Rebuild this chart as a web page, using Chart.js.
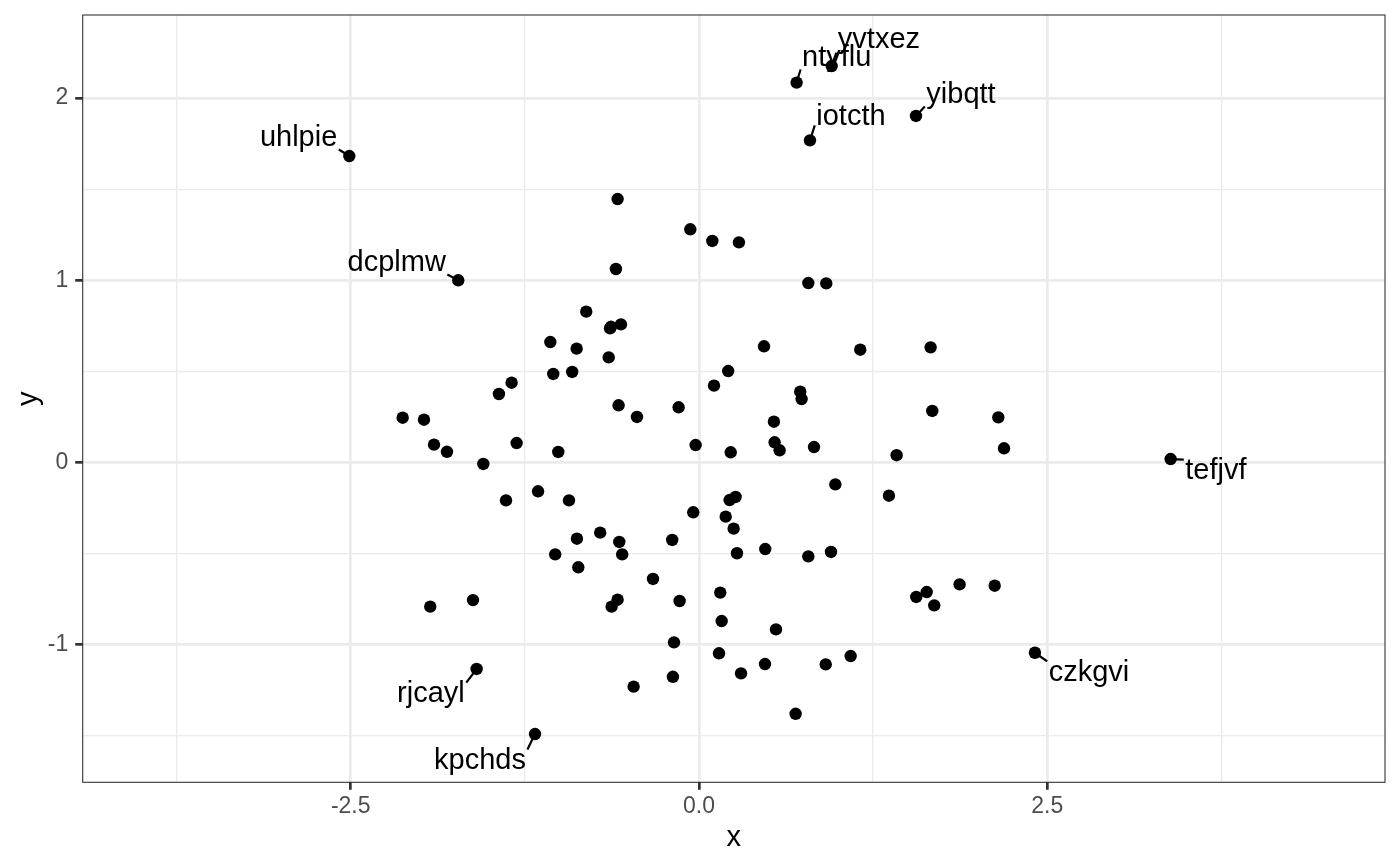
<!DOCTYPE html>
<html>
<head>
<meta charset="utf-8">
<script src="https://cdn.jsdelivr.net/npm/chart.js@4.4.1/dist/chart.umd.min.js"></script>
<style>
  html, body { margin: 0; padding: 0; background: #fff; }
  #wrap { width: 1400px; height: 866px; }
</style>
</head>
<body>
<div id="wrap"><canvas id="scatter" width="1400" height="866"></canvas></div>
<script>
// labelled points come first (same order as labelNames)
var pointX = [-2.51, -1.728, 0.701, 0.953, 0.797, 1.558, -1.596, -1.177, 3.386, 2.412,
  -0.584, -0.062, 0.096, 0.287, -0.596, 0.785, 0.914, -0.809, -0.632, -0.638, -0.56,
  -1.067, -0.878, -0.648, -1.046, -0.910, 0.467, 1.158, 1.663, 0.210, 0.108, 0.727, 0.737,
  -0.577, -0.445, -0.146, 0.538, 0.543, 0.579, 0.826, 1.675, 1.419, -1.309, -1.010,
  -1.345, -1.436, -2.127, -1.974, -1.902, -1.809, -1.548, -1.385, -1.155, -1.929, -1.622,
  -0.933, -0.041, -0.024, 0.228, 0.979, 1.364, 0.220, 0.263, 0.192, 0.249,
  -0.709, -0.876, -0.572, -0.192, -1.032, -0.551, -0.866, 0.273, 0.476, 0.785, 0.948,
  -0.330, -0.584, -0.627, -0.139, 0.153, 0.163, 0.553, -0.179, 0.144, 0.474, 0.302,
  -0.187, -0.469, 0.910, 1.089, 0.694, 1.560, 1.635, 1.689, 1.871, 2.149, 2.190, 2.123];
var pointY = [1.682, 1.000, 2.085, 2.176, 1.768, 1.902, -1.133, -1.490, 0.019, -1.044,
  1.446, 1.280, 1.216, 1.208, 1.062, 0.985, 0.983, 0.828, 0.745, 0.736, 0.758,
  0.661, 0.625, 0.577, 0.486, 0.497, 0.638, 0.619, 0.632, 0.502, 0.422, 0.389, 0.348,
  0.314, 0.250, 0.303, 0.224, 0.111, 0.067, 0.085, 0.283, 0.040, 0.107, 0.058,
  0.438, 0.376, 0.246, 0.235, 0.098, 0.059, -0.008, -0.208, -0.158, -0.791, -0.755,
  -0.208, -0.273, 0.096, 0.056, -0.120, -0.182, -0.206, -0.189, -0.297, -0.363,
  -0.385, -0.418, -0.436, -0.425, -0.504, -0.504, -0.575, -0.498, -0.475, -0.515, -0.491,
  -0.639, -0.753, -0.791, -0.760, -0.714, -0.870, -0.916, -0.987, -1.047, -1.106, -1.157,
  -1.176, -1.230, -1.108, -1.062, -1.379, -0.738, -0.711, -0.784, -0.669, 0.248, 0.078, -0.676];

// text labels and where the repelled text sits (data units)
var labelNames = ["uhlpie", "dcplmw", "ntyflu", "yvtxez", "iotcth", "yibqtt", "rjcayl", "kpchds", "tefjvf", "czkgvi"];
var labelX = [-2.874, -2.170, 0.989, 1.292, 1.091, 1.881, -1.924, -1.572, 3.711, 2.800];
var labelY = [1.781, 1.095, 2.220, 2.313, 1.913, 2.017, -1.271, -1.638, -0.047, -1.155];

var xTicks = [-3.75, -2.5, -1.25, 0, 1.25, 2.5, 3.75];
var xTickLabels = ["", "-2.5", "", "0.0", "", "2.5", ""];
var yTicks = [-1.5, -1, -0.5, 0, 0.5, 1, 1.5, 2];
var yTickLabels = ["", "-1", "", "0", "", "1", "", "2"];

var FONT = '"Liberation Sans", Arial, Helvetica, sans-serif';

function tickText(ticks, labels, v) {
    var i = ticks.indexOf(v);
    return i < 0 ? "" : labels[i];
}
function isMajor(ticks, labels, v) {
    return tickText(ticks, labels, v) !== "";
}

var points = pointX.map(function (x, i) { return { x: x, y: pointY[i] }; });

var repelLabels = {
    id: "repelLabels",
    afterDatasetsDraw: function (chart) {
        var ctx = chart.ctx, sx = chart.scales.x, sy = chart.scales.y;
        ctx.save();
        ctx.font = "29px " + FONT;
        ctx.textAlign = "left";
        ctx.textBaseline = "alphabetic";
        ctx.fillStyle = "#000";
        ctx.strokeStyle = "#000";
        ctx.lineWidth = 2.2;
        labelNames.forEach(function (name, i) {
            var px = sx.getPixelForValue(pointX[i]), py = sy.getPixelForValue(pointY[i]);
            var cx = sx.getPixelForValue(labelX[i]), cy = sy.getPixelForValue(labelY[i]);
            var m = ctx.measureText(name);
            var asc = m.actualBoundingBoxAscent, desc = m.actualBoundingBoxDescent;
            var base = cy + (asc - desc) / 2;
            // segment stops at the edge of the text box
            var halfW = m.width / 2 + 1.5, halfH = 11.5;
            var ex = Math.min(Math.max(px, cx - halfW), cx + halfW);
            var ey = Math.min(Math.max(py, cy - halfH), cy + halfH);
            ctx.beginPath();
            ctx.moveTo(px, py);
            ctx.lineTo(ex, ey);
            ctx.stroke();
            ctx.fillText(name, cx - m.width / 2, base);
        });
        ctx.restore();
    },
    afterDraw: function (chart) {
        var ctx = chart.ctx, a = chart.chartArea;
        ctx.save();
        ctx.strokeStyle = "#333333";
        ctx.lineWidth = 1.1;
        ctx.strokeRect(a.left, a.top, a.right - a.left, a.bottom - a.top);
        ctx.fillStyle = "#000";
        ctx.font = "29px " + FONT;
        ctx.textAlign = "center";
        ctx.textBaseline = "alphabetic";
        ctx.fillText("x", (a.left + a.right) / 2, 846);
        ctx.translate(36.5, (a.top + a.bottom) / 2);
        ctx.rotate(-Math.PI / 2);
        ctx.fillText("y", 0, 0);
        ctx.restore();
    }
};

new Chart(document.getElementById("scatter"), {
    type: "scatter",
    data: {
        datasets: [{
            data: points,
            backgroundColor: "#000",
            borderWidth: 0,
            pointRadius: 6.2,
            pointHoverRadius: 6.2
        }]
    },
    options: {
        responsive: false,
        animation: false,
        devicePixelRatio: 1,
        events: [],
        layout: { padding: { left: 0, right: 15, top: 15, bottom: 0 } },
        plugins: { legend: { display: false }, tooltip: { enabled: false } },
        scales: {
            x: {
                type: "linear",
                min: -4.424,
                max: 4.925,
                afterBuildTicks: function (s) { s.ticks = xTicks.map(function (v) { return { value: v }; }); },
                afterFit: function (s) { s.height = 83.7; s.paddingLeft = 0; s.paddingRight = 0; },
                border: { display: false },
                grid: {
                    color: "#ebebeb",
                    lineWidth: function (c) { return isMajor(xTicks, xTickLabels, c.tick.value) ? 2.7 : 1.35; },
                    tickLength: 7.5,
                    tickWidth: 2.7,
                    tickColor: function (c) { return isMajor(xTicks, xTickLabels, c.tick.value) ? "#333333" : "rgba(0,0,0,0)"; }
                },
                ticks: {
                    autoSkip: false,
                    maxRotation: 0,
                    padding: 3,
                    color: "#4d4d4d",
                    font: { family: FONT, size: 23 },
                    callback: function (v) { return tickText(xTicks, xTickLabels, v); }
                }
            },
            y: {
                type: "linear",
                min: -1.755,
                max: 2.456,
                afterBuildTicks: function (s) { s.ticks = yTicks.map(function (v) { return { value: v }; }); },
                afterFit: function (s) { s.width = 82.7; s.paddingTop = 0; s.paddingBottom = 0; },
                border: { display: false },
                grid: {
                    color: "#ebebeb",
                    lineWidth: function (c) { return isMajor(yTicks, yTickLabels, c.tick.value) ? 2.7 : 1.35; },
                    tickLength: 7.5,
                    tickWidth: 2.7,
                    tickColor: function (c) { return isMajor(yTicks, yTickLabels, c.tick.value) ? "#333333" : "rgba(0,0,0,0)"; }
                },
                ticks: {
                    autoSkip: false,
                    padding: 7,
                    color: "#4d4d4d",
                    font: { family: FONT, size: 23 },
                    callback: function (v) { return tickText(yTicks, yTickLabels, v); }
                }
            }
        }
    },
    plugins: [repelLabels]
});
</script>
</body>
</html>
